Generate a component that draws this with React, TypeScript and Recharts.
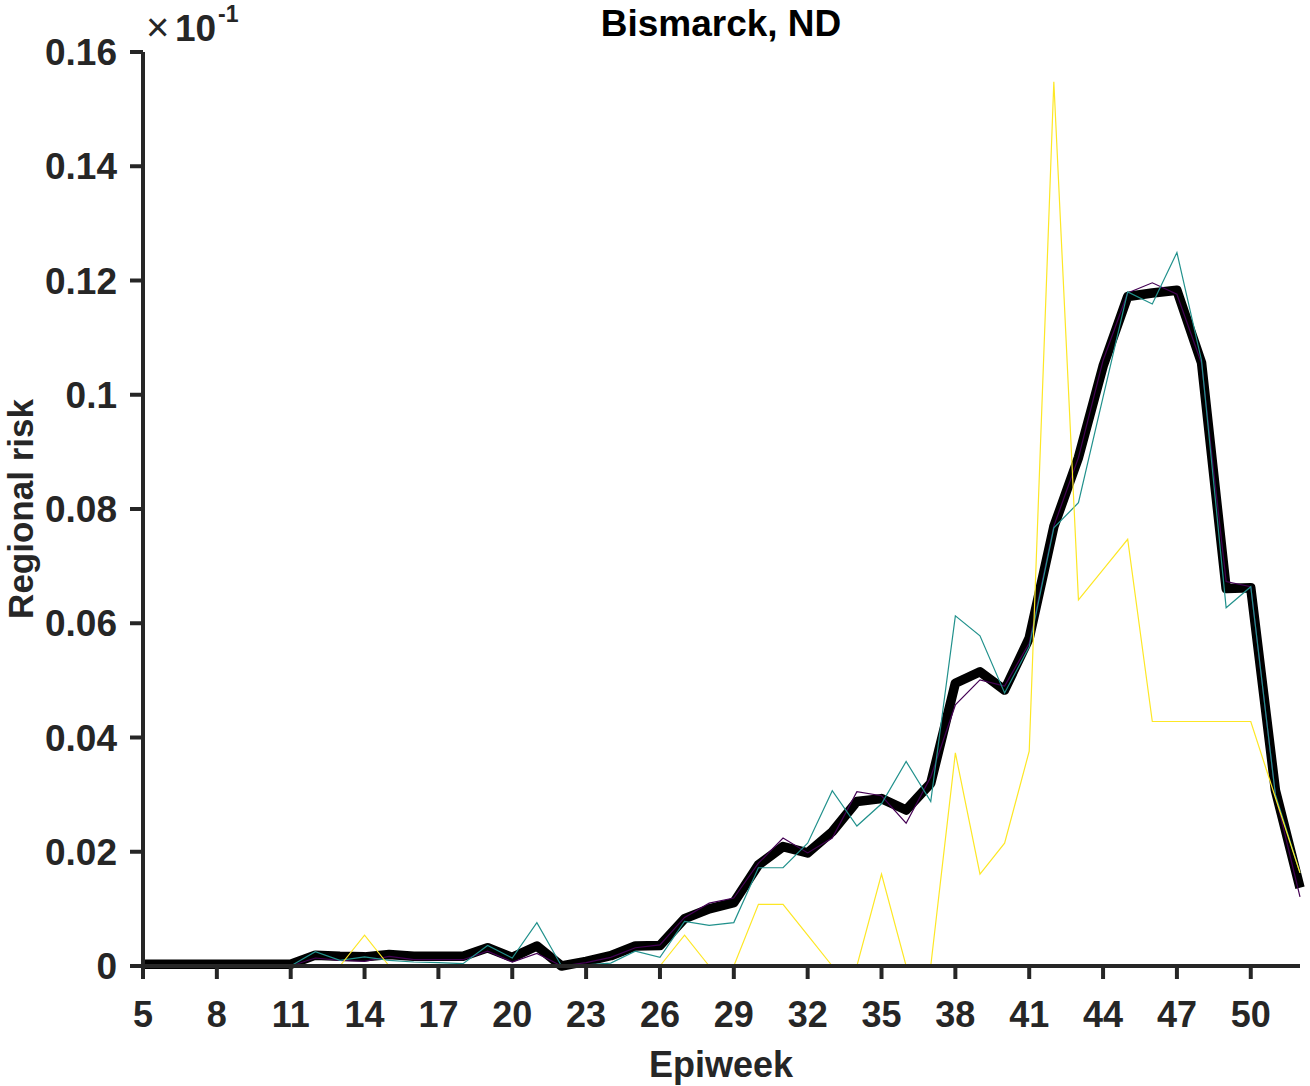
import React from "react";
import { LineChart, Line, XAxis, YAxis } from "recharts";

const weeks = [5, 6, 7, 8, 9, 10, 11, 12, 13, 14, 15, 16, 17, 18, 19, 20, 21, 22, 23, 24, 25, 26, 27, 28, 29, 30, 31, 32, 33, 34, 35, 36, 37, 38, 39, 40, 41, 42, 43, 44, 45, 46, 47, 48, 49, 50, 51, 52];

const blackVals = [0.0003, 0.0003, 0.0003, 0.0003, 0.0003, 0.0003, 0.0003,
  0.0019, 0.0017, 0.0016, 0.002, 0.0017, 0.0017, 0.0017, 0.0032, 0.0015, 0.0035, 0, 0.0008, 0.0018, 0.0035, 0.0036,
  0.0083, 0.01, 0.0111, 0.0177, 0.0209, 0.0198, 0.0235, 0.0288, 0.0293, 0.0273, 0.032, 0.0495, 0.0515, 0.0483, 0.0574,
  0.0769, 0.089, 0.105, 0.1172, 0.1178, 0.1183, 0.1056, 0.0661, 0.0662, 0.0308, 0.0137];

const purpleVals = [0, 0, 0, 0, 0, 0, 0,
  0.0014, 0.001, 0.0008, 0.0017, 0.0011, 0.0011, 0.0011, 0.0026, 0.0007, 0.0022, 0, 0.0006, 0.0015, 0.0032, 0.0037,
  0.0085, 0.011, 0.0119, 0.018, 0.0224, 0.0198, 0.0224, 0.0305, 0.0298, 0.025, 0.0331, 0.0457, 0.0501, 0.049, 0.0565,
  0.077, 0.089, 0.106, 0.1178, 0.1196, 0.1176, 0.1055, 0.0673, 0.0664, 0.03, 0.0121];

const tealVals = [0, 0, 0, 0, 0, 0, 0,
  0.0025, 0.001, 0.0016, 0.001, 0.0007, 0.0006, 0.0004, 0.0036, 0.0014, 0.0076, 0, 0.0002, 0.0005, 0.0026, 0.0015,
  0.0078, 0.0071, 0.0076, 0.0172, 0.0172, 0.0215, 0.0307, 0.0245, 0.0284, 0.0358, 0.0288, 0.0613, 0.0578, 0.0478, 0.0559,
  0.0767, 0.0811, 0.0996, 0.118, 0.1159, 0.1249, 0.106, 0.0627, 0.0664, 0.03, 0.0163];

const yellowVals = [0, 0, 0, 0, 0, 0, 0, 0, 0,
  0.0054, 0, 0, 0, 0, 0, 0, 0, 0, 0, 0, 0, 0,
  0.0054, 0, 0, 0.0108, 0.0108, 0.0054, 0, 0, 0.0161, 0, 0, 0.0373, 0.0161, 0.0215, 0.0376,
  0.1548, 0.0641, 0.0694, 0.0747, 0.0428, 0.0428, 0.0428, 0.0428, 0.0428, 0.0295, 0.0163];

const xTicks = [5, 8, 11, 14, 17, 20, 23, 26, 29, 32, 35, 38, 41, 44, 47, 50];
const yTicks = [0, 0.02, 0.04, 0.06, 0.08, 0.1, 0.12, 0.14, 0.16];

const data = weeks.map((w, i) => ({
  week: w,
  black: blackVals[i],
  purple: purpleVals[i],
  teal: tealVals[i],
  yellow: yellowVals[i],
}));

const FONT = '"Liberation Sans", Arial, Helvetica, sans-serif';
const AXIS = "#262626";

export default function App() {
  return (
    <div style={{ position: "absolute", left: 0, top: 0, width: 1310, height: 1086, background: "#fff", fontFamily: FONT }}>
      <LineChart width={1310} height={1086} data={data} margin={{ top: 52, right: 10, bottom: 60, left: 0 }}>
        <XAxis
          dataKey="week"
          type="number"
          domain={[5, 52]}
          ticks={xTicks}
          interval={0}
          height={60}
          axisLine={{ stroke: AXIS, strokeWidth: 4 }}
          tickLine={{ stroke: AXIS, strokeWidth: 4 }}
          tickSize={13}
          tickMargin={22}
          tick={{ fontSize: 36, fontWeight: "bold", fill: AXIS, fontFamily: FONT }}
        />
        <YAxis
          type="number"
          domain={[0, 0.16]}
          ticks={yTicks}
          interval={0}
          width={143}
          axisLine={{ stroke: AXIS, strokeWidth: 4 }}
          tickLine={{ stroke: AXIS, strokeWidth: 4 }}
          tickSize={13}
          tickMargin={13}
          tick={{ fontSize: 37, fontWeight: "bold", fill: AXIS, fontFamily: FONT }}
        />
        <Line dataKey="black" type="linear" stroke="#000000" strokeWidth={9.5} strokeLinejoin="round" dot={false} activeDot={false} isAnimationActive={false} />
        <Line dataKey="purple" type="linear" stroke="#440154" strokeWidth={1.2} dot={false} activeDot={false} isAnimationActive={false} />
        <Line dataKey="teal" type="linear" stroke="#21918c" strokeWidth={1.2} dot={false} activeDot={false} isAnimationActive={false} />
        <Line dataKey="yellow" type="linear" stroke="#fde725" strokeWidth={1.2} dot={false} activeDot={false} isAnimationActive={false} />
      </LineChart>
      <svg width={1310} height={1086} style={{ position: "absolute", left: 0, top: 0, pointerEvents: "none" }}>
        <text x={721} y={36} textAnchor="middle" fontSize={37} fontWeight="bold" fill="#000" fontFamily={FONT}>Bismarck, ND</text>
        <text x={721} y={1077} textAnchor="middle" fontSize={36} fontWeight="bold" fill={AXIS} fontFamily={FONT}>Epiweek</text>
        <text transform="translate(33,509) rotate(-90)" textAnchor="middle" fontSize={35} fontWeight="bold" fill={AXIS} fontFamily={FONT}>Regional risk</text>
        <text y={41} fill={AXIS} fontFamily={FONT}>
          <tspan x={146} fontSize={40} fontWeight="normal">×</tspan>
          <tspan x={175} fontSize={37} fontWeight="bold">10</tspan>
          <tspan x={218} y={22} fontSize={23} fontWeight="bold">-1</tspan>
        </text>
      </svg>
    </div>
  );
}
